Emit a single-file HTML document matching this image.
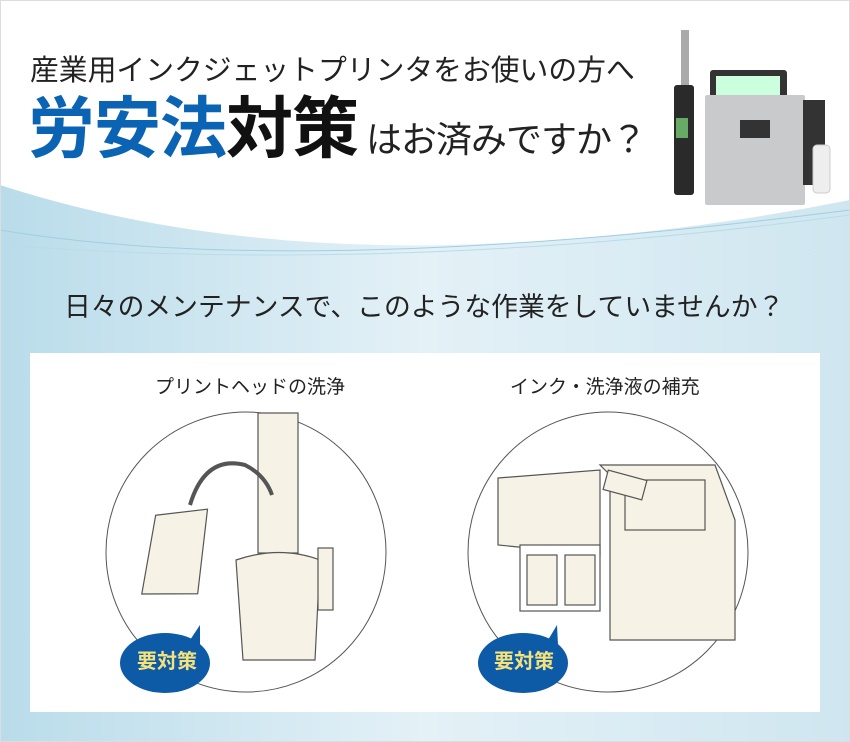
<!DOCTYPE html>
<html><head><meta charset="utf-8"><style>
body{margin:0;width:850px;height:742px;overflow:hidden;font-family:"Liberation Sans","Noto Sans CJK JP",sans-serif;}
.t{position:absolute;white-space:nowrap;line-height:1;}
</style></head><body>
<div style="position:relative;width:850px;height:742px;">
<svg width="850" height="742" style="position:absolute;left:0;top:0">
<defs>
<linearGradient id="bg" x1="0" y1="0" x2="0" y2="1"><stop offset="0" stop-color="#c6e3ef"/><stop offset="1" stop-color="#e6f2f7"/></linearGradient>
<linearGradient id="bg2" x1="0" y1="0" x2="1" y2="0"><stop offset="0" stop-color="#b9dcea"/><stop offset="0.5" stop-color="#e4f1f7"/><stop offset="1" stop-color="#cfe6f0"/></linearGradient>
</defs>
<rect width="850" height="742" fill="url(#bg)"/>
<path d="M0 160 Q250 250 520 230 T850 190 V742 H0Z" fill="url(#bg2)"/>
<path d="M0 0 H850 V200 Q650 240 450 245 Q200 250 0 185Z" fill="#fff"/>
<path d="M0 230 Q300 280 850 210" stroke="#9fcfe3" fill="none"/>
<path d="M0 245 Q400 275 850 215" stroke="#b8dcea" fill="none"/>
<rect x="0.5" y="0.5" width="849" height="741" fill="none" stroke="#ddd"/>
<rect x="30" y="353" width="790" height="359" fill="#fff"/>
<rect x="681" y="30" width="8" height="55" fill="#aaa"/>
<rect x="674" y="85" width="20" height="110" rx="3" fill="#2a2a2a"/>
<rect x="676" y="118" width="12" height="20" fill="#6a6"/>
<rect x="710" y="70" width="77" height="40" rx="3" fill="#333"/>
<rect x="716" y="76" width="64" height="28" fill="#cfd"/>
<rect x="705" y="95" width="100" height="110" rx="2" fill="#c9cacc"/>
<rect x="740" y="120" width="30" height="18" fill="#333"/>
<rect x="803" y="100" width="22" height="85" fill="#333"/>
<rect x="813" y="145" width="17" height="48" rx="4" fill="#eee" stroke="#ccc"/>
<circle cx="246" cy="552" r="140" fill="#fff" stroke="#555" stroke-width="1"/>
<circle cx="608" cy="552" r="140" fill="#fff" stroke="#555" stroke-width="1"/>
<g stroke="#555" fill="#f7f2e6" stroke-width="1.2">
<rect x="258" y="413" width="40" height="140"/>
<path d="M236 560 Q280 545 320 560 L315 660 H243Z"/>
<rect x="318" y="548" width="15" height="62"/>
<path d="M150 520 L200 505 L205 590 L150 600Z" transform="rotate(10 180 550)"/>
<path d="M190 505 Q205 455 245 465 Q265 475 272 495" fill="none" stroke-width="4"/>
</g>
<g stroke="#555" fill="#f7f2e6" stroke-width="1.2">
<path d="M498 478 L600 470 L600 555 L498 545Z"/>
<path d="M600 465 L715 465 L735 520 L735 640 L610 640 L610 475Z"/>
<rect x="625" y="480" width="80" height="50"/>
<rect x="520" y="545" width="80" height="66" fill="#fff"/>
<rect x="527" y="555" width="30" height="50"/>
<rect x="565" y="555" width="30" height="50"/>
<rect x="605" y="475" width="40" height="20" transform="rotate(15 625 485)"/>
</g>
<path d="M190 640 L200 625 L200 645Z" fill="#0d5aa7"/>
<ellipse cx="165" cy="663" rx="45" ry="30" fill="#0d5aa7"/>
<path d="M548 640 L557 625 L558 645Z" fill="#0d5aa7"/>
<ellipse cx="523" cy="663" rx="45" ry="30" fill="#0d5aa7"/>
</svg>
<div class="t" style="left:30px;top:57px;font-size:28.8px;color:#222;">産業用インクジェットプリンタをお使いの方へ</div>
<div class="t" style="left:28px;top:96px;font-size:67px;font-weight:bold;color:#0b63b3;letter-spacing:-1px;">労安法<span style="color:#111">対策</span><span style="font-size:36px;font-weight:normal;color:#222;margin-left:8px;">はお済みですか？</span></div>
<div class="t" style="left:64px;top:294px;font-size:26.8px;color:#222;">日々のメンテナンスで、このような作業をしていませんか？</div>
<div class="t" style="left:155px;top:378px;font-size:19px;color:#222;">プリントヘッドの洗浄</div>
<div class="t" style="left:510px;top:378px;font-size:19px;color:#222;">インク・洗浄液の補充</div>
<div class="t" style="left:137px;top:652px;font-size:20px;font-weight:bold;color:#f5e27a;">要対策</div>
<div class="t" style="left:494px;top:652px;font-size:20px;font-weight:bold;color:#f5e27a;">要対策</div>
</div>
</body></html>
